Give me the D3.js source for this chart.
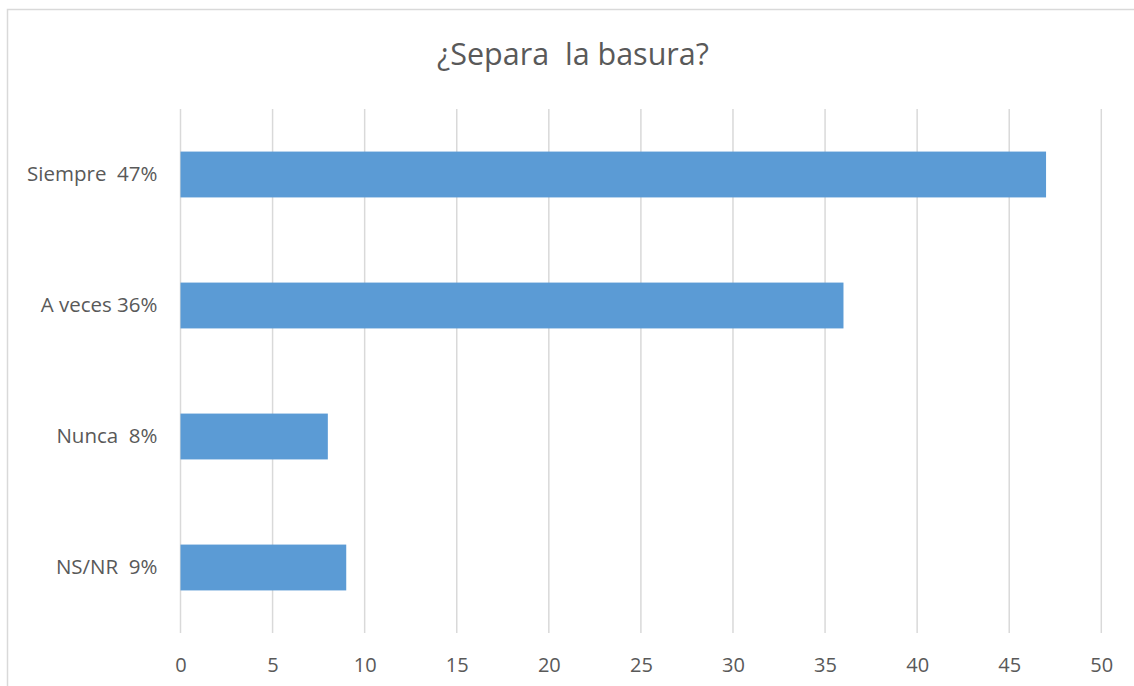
<!DOCTYPE html>
<html>
<head>
  <title>¿Separa la basura?</title>
  <script src="https://d3js.org/d3.v7.min.js"></script>
  <style>
    body {
      margin: 0;
      background: #fff;
      font-family: 'Open Sans', 'Noto Sans', sans-serif;
    }
    text { white-space: pre; }
  </style>
</head>
<body>
  <div id="chart"></div>

  <script>
    // Chart data
    const categories = ["Siempre  47%", "A veces 36%", "Nunca  8%", "NS/NR  9%"];
    const values = [47, 36, 8, 9];
    const xTicks = [0, 5, 10, 15, 20, 25, 30, 35, 40, 45, 50];
    const title = "¿Separa  la basura?";

    const width = 1134;
    const height = 686;
    const margin = { top: 109, right: 32, bottom: 53, left: 180.5 };

    const svg = d3.select("#chart")
      .append("svg")
      .attr("width", width)
      .attr("height", height);

    // chart border (cropped on right and bottom)
    svg.append("rect")
      .attr("x", 7.5)
      .attr("y", 9.5)
      .attr("width", width + 10)
      .attr("height", height + 10)
      .attr("fill", "none")
      .attr("stroke", "#d9d9d9")
      .attr("stroke-width", 1.5);

    const x = d3.scaleLinear()
      .domain([0, 50])
      .range([margin.left, 1101.3]);

    const y = d3.scaleBand()
      .domain(categories)
      .range([margin.top, height - margin.bottom])
      .paddingInner(0.65)
      .paddingOuter(0.325);

    // Gridlines
    svg.append("g")
      .selectAll("line")
      .data(xTicks)
      .join("line")
      .attr("x1", d => x(d))
      .attr("x2", d => x(d))
      .attr("y1", margin.top)
      .attr("y2", height - margin.bottom)
      .attr("stroke", "#d9d9d9")
      .attr("stroke-width", 1.5);

    // Bars
    svg.append("g")
      .selectAll("rect")
      .data(values)
      .join("rect")
      .attr("x", x(0))
      .attr("y", (d, i) => y(categories[i]))
      .attr("width", d => x(d) - x(0))
      .attr("height", y.bandwidth())
      .attr("fill", "#5b9bd5");

    // X axis labels
    const xAxis = d3.axisBottom(x)
      .tickValues(xTicks)
      .tickSize(0)
      .tickPadding(25);

    const gx = svg.append("g")
      .attr("transform", `translate(0,${height - margin.bottom})`)
      .call(xAxis);
    gx.select(".domain").remove();
    gx.selectAll("text")
      .attr("fill", "#595959")
      .style("font-family", "'Open Sans', sans-serif")
      .style("font-size", "20px");

    // Y axis labels
    const yAxis = d3.axisLeft(y)
      .tickSize(0)
      .tickPadding(23);

    const gy = svg.append("g")
      .attr("transform", `translate(${margin.left},0)`)
      .call(yAxis);
    gy.select(".domain").remove();
    gy.selectAll("text")
      .attr("fill", "#595959")
      .style("font-family", "'Open Sans', sans-serif")
      .style("font-size", "20.5px");

    // Title
    svg.append("text")
      .attr("x", 573)
      .attr("y", 57)
      .attr("text-anchor", "middle")
      .attr("dominant-baseline", "middle")
      .attr("fill", "#595959")
      .style("font-size", "30.5px")
      .text(title);
  </script>
</body>
</html>
